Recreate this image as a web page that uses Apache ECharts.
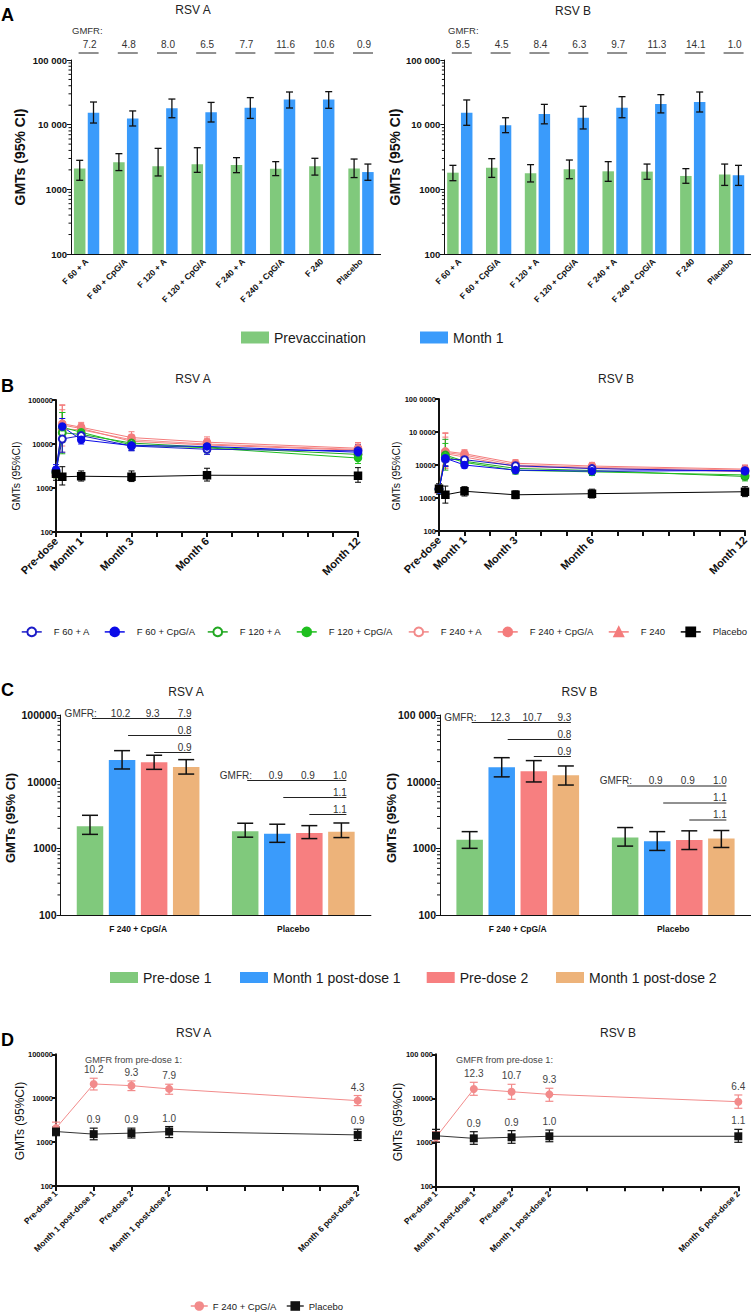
<!DOCTYPE html>
<html>
<head>
<meta charset="utf-8">
<title>RSV GMT figure</title>
<script src="https://cdn.jsdelivr.net/npm/echarts@6/dist/echarts.min.js"></script>
<style>
html,body{margin:0;padding:0;background:#ffffff;width:751px;height:1314px;overflow:hidden;}
.layer{position:absolute;left:0;top:0;width:751px;height:1314px;}
</style>
</head>
<body>
<div id="panelA" class="layer"></div>
<div id="panelB" class="layer"></div>
<div id="panelC" class="layer"></div>
<div id="panelD" class="layer"></div>
<script>
// ================= DATA =================
// ---- Panel A ----
const catsA = ['F 60 + A', 'F 60 + CpG/A', 'F 120 + A', 'F 120 + CpG/A', 'F 240 + A', 'F 240 + CpG/A', 'F 240', 'Placebo'];
const seriesNamesA = ['Prevaccination', 'Month 1'];
// RSV A
const aA_pre    = [2100, 2620, 2270, 2440, 2380, 2090, 2270, 2100];
const aA_pre_lo = [1380, 1950, 1610, 1830, 1810, 1630, 1660, 1520];
const aA_pre_hi = [2810, 3560, 4300, 4400, 3090, 2680, 3020, 2940];
const aA_m1     = [15300, 12500, 17900, 15500, 18300, 24400, 24400, 1850];
const aA_m1_lo  = [10600, 9540, 12800, 11000, 12500, 18100, 17900, 1380];
const aA_m1_hi  = [22400, 16300, 24900, 22100, 26200, 32000, 32400, 2460];
const aA_gmfr   = ['7.2', '4.8', '8.0', '6.5', '7.7', '11.6', '10.6', '0.9'];
// RSV B
const aB_pre    = [1810, 2160, 1770, 2040, 1900, 1880, 1610, 1690];
const aB_pre_lo = [1360, 1530, 1300, 1460, 1330, 1430, 1240, 1150];
const aB_pre_hi = [2350, 2980, 2410, 2840, 2680, 2460, 2090, 2460];
const aB_m1     = [15300, 9770, 14600, 12800, 18300, 20900, 22400, 1650];
const aB_m1_lo  = [9770, 7520, 10300, 8580, 12800, 15200, 15700, 1150];
const aB_m1_hi  = [24100, 12800, 20600, 19200, 27100, 29100, 32000, 2350];
const aB_gmfr   = ['8.5', '4.5', '8.4', '6.3', '9.7', '11.3', '14.1', '1.0'];
const yLabelsA = ['100', '1000', '10 000', '100 000'];

// ---- Panel B ----
const bGroups = ['F 60 + A', 'F 60 + CpG/A', 'F 120 + A', 'F 120 + CpG/A', 'F 240 + A', 'F 240 + CpG/A', 'F 240', 'Placebo'];
const bTimes = [0, 0.25, 1, 3, 6, 12];
const bLabelTimes = [0, 1, 3, 6, 12];
const bLabels = ['Pre-dose', 'Month 1', 'Month 3', 'Month 6', 'Month 12'];
// RSV A (rows follow bGroups, columns follow bTimes)
const bA_val = [
  [2400, 13000, 15500, 9000, 7600, 7000],
  [2600, 25000, 12500, 9200, 8800, 6500],
  [2200, 18000, 16500, 10500, 8500, 5800],
  [2300, 24000, 18500, 9500, 8200, 4800],
  [2300, 22000, 21000, 12500, 10000, 7500],
  [2200, 29000, 24000, 14000, 11000, 8000],
  [2300, 27000, 22500, 11500, 9500, 7200],
  [2100, 1800, 1850, 1800, 1950, 1900]
];
const bA_lo = [
  [1900, 6500, 11500, 7000, 5800, 5200],
  [2000, 16000, 10000, 7200, 6800, 4800],
  [1700, 6000, 12000, 8000, 6500, 4200],
  [1800, 11000, 14000, 7300, 6300, 3600],
  [1800, 6500, 16000, 9500, 7600, 5600],
  [1700, 11000, 19000, 10500, 8500, 6000],
  [1800, 9000, 17500, 8800, 7300, 5300],
  [1500, 1170, 1440, 1400, 1440, 1350]
];
const bA_hi = [
  [3000, 26000, 20000, 11500, 10000, 9500],
  [3400, 38000, 15500, 11800, 11400, 8800],
  [2800, 52000, 22000, 13500, 11000, 8000],
  [2900, 52000, 24000, 12400, 10600, 6400],
  [2900, 75000, 27000, 16500, 13200, 10000],
  [2800, 78000, 31000, 19000, 14500, 10800],
  [2900, 60000, 29000, 15000, 12400, 9800],
  [2900, 3050, 2440, 2440, 2810, 2900]
];
// RSV B
const bB_val = [
  [1900, 15000, 14500, 9500, 7800, 6500],
  [1800, 16000, 10000, 7000, 6500, 6800],
  [1800, 20000, 13000, 7900, 6800, 4500],
  [1900, 18000, 12000, 6900, 6200, 5000],
  [1800, 24000, 20000, 10000, 8500, 7000],
  [1900, 26000, 22000, 11300, 9300, 7500],
  [1850, 22000, 17500, 9000, 8000, 6300],
  [1900, 1250, 1600, 1250, 1350, 1550]
];
const bB_lo = [
  [1500, 9000, 11000, 7500, 6000, 4800],
  [1400, 9500, 8000, 5500, 5000, 5000],
  [1400, 7000, 10000, 6000, 5200, 3300],
  [1500, 9000, 9500, 5300, 4800, 3700],
  [1400, 8000, 15000, 7800, 6500, 5000],
  [1500, 9500, 17000, 8800, 7200, 5600],
  [1450, 8000, 13500, 7000, 6200, 4600],
  [1300, 700, 1150, 950, 1000, 1100]
];
const bB_hi = [
  [2400, 28000, 19500, 12000, 10000, 9000],
  [2300, 27000, 12500, 9000, 8500, 9200],
  [2300, 60000, 17500, 10500, 9000, 6200],
  [2400, 45000, 15500, 9000, 8000, 6800],
  [2300, 90000, 27000, 13000, 11200, 9800],
  [2400, 95000, 29000, 14500, 12000, 10000],
  [2350, 70000, 23000, 11700, 10400, 8700],
  [2700, 2300, 2200, 1650, 1850, 2200]
];
const yLabelsBL = ['100', '1000', '10000', '100000'];
const yLabelsBR = ['100', '1000', '10000', '10 0000', '100 0000'];

// ---- Panel C ----
const catsC = ['F 240 + CpG/A', 'Placebo'];
const seriesNamesC = ['Pre-dose 1', 'Month 1 post-dose 1', 'Pre-dose 2', 'Month 1 post-dose 2'];
// RSV A (rows follow seriesNamesC, columns follow catsC)
const cA_val = [[2150, 1800], [21200, 1650], [19600, 1700], [16600, 1780]];
const cA_lo  = [[1620, 1470], [15500, 1230], [15300, 1400], [13000, 1450]];
const cA_hi  = [[3130, 2380], [29200, 2300], [24900, 2190], [21400, 2400]];
const cA_gmfr1 = [['10.2', '9.3', '7.9'], ['0.9', '0.9', '1.0']];
const cA_gmfr2 = ['0.8', '1.1'];
const cA_gmfr3 = ['0.9', '1.1'];
// RSV B
const cB_val = [[1350, 1450], [16400, 1280], [14300, 1330], [12500, 1400]];
const cB_lo  = [[1000, 1080], [11800, 930], [9900, 960], [8900, 1030]];
const cB_hi  = [[1780, 2050], [22900, 1780], [20700, 1830], [17200, 1850]];
const cB_gmfr1 = [['12.3', '10.7', '9.3'], ['0.9', '0.9', '1.0']];
const cB_gmfr2 = ['0.8', '1.1'];
const cB_gmfr3 = ['0.9', '1.1'];
const yLabelsCL = ['100', '1000', '10000', '100000'];
const yLabelsCR = ['100', '1000', '10000', '100 000'];

// ---- Panel D ----
const dX = [0, 1, 2, 3, 8];
const dXLabels = ['Pre-dose 1', 'Month 1 post-dose 1', 'Pre-dose 2', 'Month 1 post-dose 2', 'Month 6 post-dose 2'];
const dNames = ['F 240 + CpG/A', 'Placebo'];
// RSV A
const dA_vac    = [2080, 21100, 19300, 16300, 8810];
const dA_vac_lo = [1600, 15400, 14900, 12300, 6790];
const dA_vac_hi = [2850, 28500, 24700, 20800, 11500];
const dA_pla    = [1740, 1520, 1600, 1740, 1460];
const dA_pla_lo = [1400, 1130, 1240, 1270, 1090];
const dA_pla_hi = [2200, 2080, 2080, 2260, 1970];
const dA_gmfrV  = ['', '10.2', '9.3', '7.9', '4.3'];
const dA_gmfrP  = ['', '0.9', '0.9', '1.0', '0.9'];
// RSV B
const dB_vac    = [1300, 16300, 14100, 12300, 8380];
const dB_vac_lo = [1030, 11700, 9490, 8550, 5930];
const dB_vac_hi = [1740, 23100, 20800, 16900, 11900];
const dB_pla    = [1410, 1230, 1300, 1370, 1370];
const dB_pla_lo = [1000, 900, 950, 1030, 1000];
const dB_pla_hi = [1970, 1740, 1840, 1900, 1970];
const dB_gmfrV  = ['', '12.3', '10.7', '9.3', '6.4'];
const dB_gmfrP  = ['', '0.9', '0.9', '1.0', '1.1'];
const yLabelsDL = ['100', '1000', '10000', '100000'];
const yLabelsDR = ['100', '1000', '10000', '100 000'];

// log-axis minor tick positions
const minorTicks = [200, 300, 400, 500, 600, 700, 800, 900,
  2000, 3000, 4000, 5000, 6000, 7000, 8000, 9000,
  20000, 30000, 40000, 50000, 60000, 70000, 80000, 90000];

// ================= HELPERS =================
const FONT = '"Liberation Sans", Arial, Helvetica, sans-serif';
const BLACK = '#111111';
const GREEN = '#80c97c';
const BLUE = '#3a9bfb';
const SALMON = '#f77f80';
const ORANGE = '#edb37a';

function txt(x, y, text, size, color, weight, align, rot) {
  return {type: 'text', x: x, y: y, rotation: rot || 0, silent: true,
    style: {text: text, fill: color || '#222', fontSize: size, fontFamily: FONT, fontWeight: weight || 'normal',
      align: align || 'center', verticalAlign: 'middle', textAlign: align || 'center', textVerticalAlign: 'middle'}};
}
function tickFormatter(ticks, labels) {
  return function (v) {
    for (let i = 0; i < ticks.length; i++) {
      if (Math.abs(v - ticks[i]) / ticks[i] < 1e-6) return labels[i];
    }
    return '';
  };
}
function logY(gridIndex, min, max, labels, o) {
  const ticks = [];
  for (let v = min; v <= max * 1.0001; v *= 10) ticks.push(v);
  return {
    type: 'log', logBase: 10, gridIndex: gridIndex, min: min, max: max, offset: o.offset || 0,
    axisLine: {show: true, lineStyle: {color: BLACK, width: o.lw || 1}},
    axisTick: {show: true, length: o.tl || 4, lineStyle: {color: BLACK, width: o.lw || 1}},
    axisLabel: {fontSize: o.fs, fontWeight: o.fw || 'bold', color: BLACK, margin: o.margin || 4, fontFamily: FONT,
      formatter: tickFormatter(ticks, labels)},
    splitLine: {show: false}
  };
}
function catX(gridIndex, data, o) {
  return {type: 'category', gridIndex: gridIndex, data: data, boundaryGap: true,
    axisLine: {show: true, lineStyle: {color: BLACK, width: 1}},
    axisTick: {show: false},
    axisLabel: {interval: 0, rotate: o.rotate || 0, fontSize: o.fs, fontWeight: 'bold', color: BLACK, margin: o.margin, fontFamily: FONT}
  };
}
function valX(gridIndex, max, ticks, labels, o) {
  return {type: 'value', gridIndex: gridIndex, min: 0, max: max, interval: 1,
    axisLine: {show: true, lineStyle: {color: BLACK, width: 2}},
    axisTick: {show: true, length: 5, lineStyle: {color: BLACK, width: 2}},
    axisLabel: {rotate: 45, fontSize: o.fs, fontWeight: 'bold', color: BLACK, margin: o.margin, fontFamily: FONT,
      showMinLabel: true, showMaxLabel: true,
      formatter: function (v) {
        const i = ticks.indexOf(Math.round(v));
        return (i >= 0 && Math.abs(v - Math.round(v)) < 1e-6) ? labels[i] : '';
      }},
    splitLine: {show: false}
  };
}
function errRender(offset, capHalf, color, lw, labels, gap) {
  return function (params, api) {
    const x = api.value(0), lo = api.value(1), hi = api.value(2);
    const a = api.coord([x, lo]), b = api.coord([x, hi]);
    const cx = a[0] + offset;
    const st = {stroke: color, lineWidth: lw, fill: null};
    const ch = [
      {type: 'line', shape: {x1: cx, y1: b[1], x2: cx, y2: a[1]}, style: st},
      {type: 'line', shape: {x1: cx - capHalf, y1: b[1], x2: cx + capHalf, y2: b[1]}, style: st},
      {type: 'line', shape: {x1: cx - capHalf, y1: a[1], x2: cx + capHalf, y2: a[1]}, style: st}
    ];
    if (labels && labels[params.dataIndex]) {
      ch.push(txt(cx, b[1] - gap, labels[params.dataIndex], 10, '#444', 'normal'));
    }
    return {type: 'group', children: ch};
  };
}
function errSeries(xi, yi, xs, lo, hi, offset, capHalf, color, lw, labels, gap) {
  return {type: 'custom', xAxisIndex: xi, yAxisIndex: yi, clip: false, silent: true, z: 5,
    data: xs.map(function (x, i) { return [x, lo[i], hi[i]]; }),
    renderItem: errRender(offset, capHalf, color, lw, labels, gap)};
}
function minorSeries(xi, yi, shift, len) {
  return {type: 'custom', xAxisIndex: xi, yAxisIndex: yi, clip: false, silent: true,
    data: minorTicks.map(function (v) { return [0, v]; }),
    renderItem: function (params, api) {
      const y = api.coord([0, api.value(1)])[1];
      const x = params.coordSys.x + shift;
      return {type: 'line', shape: {x1: x - len, y1: y, x2: x, y2: y}, style: {stroke: BLACK, lineWidth: 1}};
    }};
}
function legendItem(name, left, top, o) {
  return {data: [name], left: left, top: top, padding: 0, orient: 'horizontal', selectedMode: false,
    itemWidth: o.w, itemHeight: o.h, icon: o.icon,
    lineStyle: o.lineStyle,
    textStyle: {fontSize: o.fs, color: '#1a1a1a', fontFamily: FONT, padding: o.tp || 0}};
}

// ================= PANEL A =================
function gmfrTopRender(labels) {
  return function (params, api) {
    const p = api.coord([api.value(0), api.value(1)]);
    const cx = p[0] + 2;
    return {type: 'group', children: [
      txt(cx + 1, p[1] - 16, labels[params.dataIndex], 10, '#333', 'normal'),
      {type: 'line', shape: {x1: cx - 10, y1: p[1] - 7, x2: cx + 10, y2: p[1] - 7}, style: {stroke: '#222', lineWidth: 1}}
    ]};
  };
}
const topRef = catsA.map(function (c, i) { return [i, 100000]; });
const catIdx = catsA.map(function (c, i) { return i; });
const optA = {
  animation: false,
  textStyle: {fontFamily: FONT},
  grid: [{left: 67, top: 60, width: 313.6, height: 194}, {left: 440.4, top: 60, width: 313.6, height: 194}],
  xAxis: [catX(0, catsA, {rotate: 45, fs: 8.5, margin: 6}), catX(1, catsA, {rotate: 45, fs: 8.5, margin: 6})],
  yAxis: [logY(0, 100, 100000, yLabelsA, {offset: -4, fs: 9.5, tl: 4}), logY(1, 100, 100000, yLabelsA, {offset: -4, fs: 9.5, tl: 4})],
  legend: [
    legendItem('Prevaccination', 241, 330.5, {w: 28, h: 12, fs: 14, icon: 'rect'}),
    legendItem('Month 1', 420, 330.5, {w: 28, h: 12, fs: 14, icon: 'rect'})
  ],
  graphic: [
    txt(1, 15, 'A', 18, '#000', 'bold', 'left'),
    txt(193, 10, 'RSV A', 12, '#222'),
    txt(573, 11, 'RSV B', 12, '#222'),
    txt(72, 30.5, 'GMFR:', 9.5, '#333', 'normal', 'left'),
    txt(448, 30, 'GMFR:', 9.5, '#333', 'normal', 'left'),
    txt(19.5, 157, 'GMTs (95% CI)', 14, '#111', 'bold', 'center', Math.PI / 2),
    txt(394.5, 157, 'GMTs (95% CI)', 14, '#111', 'bold', 'center', Math.PI / 2)
  ],
  series: [
    {type: 'bar', name: seriesNamesA[0], xAxisIndex: 0, yAxisIndex: 0, data: aA_pre, barWidth: 11.5, barGap: '20%', itemStyle: {color: GREEN}},
    {type: 'bar', name: seriesNamesA[1], xAxisIndex: 0, yAxisIndex: 0, data: aA_m1, barWidth: 11.5, barGap: '20%', itemStyle: {color: BLUE}},
    {type: 'bar', name: seriesNamesA[0], xAxisIndex: 1, yAxisIndex: 1, data: aB_pre, barWidth: 11.5, barGap: '20%', itemStyle: {color: GREEN}},
    {type: 'bar', name: seriesNamesA[1], xAxisIndex: 1, yAxisIndex: 1, data: aB_m1, barWidth: 11.5, barGap: '20%', itemStyle: {color: BLUE}},
    errSeries(0, 0, catIdx, aA_pre_lo, aA_pre_hi, -6.9, 3.5, BLACK, 1.3),
    errSeries(0, 0, catIdx, aA_m1_lo, aA_m1_hi, 6.9, 3.5, BLACK, 1.3),
    errSeries(1, 1, catIdx, aB_pre_lo, aB_pre_hi, -6.9, 3.5, BLACK, 1.3),
    errSeries(1, 1, catIdx, aB_m1_lo, aB_m1_hi, 6.9, 3.5, BLACK, 1.3),
    {type: 'custom', xAxisIndex: 0, yAxisIndex: 0, clip: false, silent: true, data: topRef, renderItem: gmfrTopRender(aA_gmfr)},
    {type: 'custom', xAxisIndex: 1, yAxisIndex: 1, clip: false, silent: true, data: topRef, renderItem: gmfrTopRender(aB_gmfr)},
    minorSeries(0, 0, 4, 2.5),
    minorSeries(1, 1, 4, 2.5)
  ]
};

// ================= PANEL B =================
const bColors = ['#1c1cc8', '#0b0be8', '#22a822', '#1fbf1f', '#f28a8a', '#f47c7c', '#f47c7c', '#000000'];
const bSymbols = ['emptyCircle', 'circle', 'emptyCircle', 'circle', 'emptyCircle', 'circle', 'triangle', 'rect'];
const bOrder = [4, 6, 5, 2, 3, 0, 1, 7];
const bSeries = [];
[[bA_val, bA_lo, bA_hi], [bB_val, bB_lo, bB_hi]].forEach(function (set, g) {
  bOrder.forEach(function (k) {
    bSeries.push(errSeries(g, g, bTimes, set[1][k], set[2][k], 0, 3, bColors[k], 1));
  });
  bOrder.forEach(function (k) {
    bSeries.push({type: 'line', name: bGroups[k], xAxisIndex: g, yAxisIndex: g, z: 6,
      data: bTimes.map(function (t, i) { return [t, set[0][k][i]]; }),
      symbol: bSymbols[k], symbolSize: 7, showAllSymbol: true,
      lineStyle: {color: bColors[k], width: 1}, itemStyle: {color: bColors[k], borderColor: bColors[k], borderWidth: 1.5}});
  });
});
const bLegLeft = [21, 104, 207, 296, 408, 497, 608, 680];
const optB = {
  animation: false,
  textStyle: {fontFamily: FONT},
  grid: [{left: 56, top: 400, width: 302, height: 132}, {left: 439, top: 399, width: 306, height: 132}],
  xAxis: [valX(0, 12, bLabelTimes, bLabels, {fs: 11, margin: 7}), valX(1, 12, bLabelTimes, bLabels, {fs: 11, margin: 7})],
  yAxis: [logY(0, 100, 100000, yLabelsBL, {fs: 7.5, lw: 2, tl: 4, margin: 3}), logY(1, 100, 1000000, yLabelsBR, {fs: 7.5, lw: 2, tl: 4, margin: 3})],
  legend: bGroups.map(function (n, i) {
    return legendItem(n, bLegLeft[i], 626.5, {w: 20, h: 11, fs: 9.5, tp: [0, 0, 0, 7], lineStyle: {width: 1.5}});
  }),
  graphic: [
    txt(1, 386, 'B', 18, '#000', 'bold', 'left'),
    txt(193, 378.5, 'RSV A', 12, '#222'),
    txt(616, 378.5, 'RSV B', 12, '#222'),
    txt(16, 476, 'GMTs (95%CI)', 10.5, '#111', 'normal', 'center', Math.PI / 2),
    txt(395.5, 476, 'GMTs (95%CI)', 10.5, '#111', 'normal', 'center', Math.PI / 2)
  ],
  series: bSeries
};

// ================= PANEL C =================
const cColors = [GREEN, BLUE, SALMON, ORANGE];
const cPitch = 26.5 * 1.21;
const cOffsets = [-1.5 * cPitch, -0.5 * cPitch, 0.5 * cPitch, 1.5 * cPitch];
function cAnnRender(row1, row2, row3, bases) {
  return function (params, api) {
    const i = params.dataIndex;
    const p = api.coord([api.value(0), api.value(1)]);
    const c = p[0];
    const base = p[1] + bases[i];
    const green = c + cOffsets[0], blue = c + cOffsets[1], red = c + cOffsets[2], orange = c + cOffsets[3];
    const right = orange + 5;
    const ln = function (x1, y) { return {type: 'line', shape: {x1: x1, y1: y, x2: right, y2: y}, style: {stroke: '#222', lineWidth: 1}}; };
    return {type: 'group', children: [
      txt(c - 73.5, base, 'GMFR:', 10, '#333', 'normal', 'left'),
      txt(blue - 1.5, base, row1[i][0], 10, '#333'),
      txt(red - 1.5, base, row1[i][1], 10, '#333'),
      txt(orange - 1.5, base, row1[i][2], 10, '#333'),
      ln(green + 2, base + 5.5),
      txt(orange - 1.5, base + 17, row2[i], 10, '#333'),
      ln(blue + 6, base + 22.5),
      txt(orange - 1.5, base + 34, row3[i], 10, '#333'),
      ln(red, base + 39.5)
    ]};
  };
}
const cIdx = catsC.map(function (c, i) { return i; });
const cTopRef = catsC.map(function (c, i) { return [i, 100000]; });
const cSeries = [];
[[cA_val, cA_lo, cA_hi], [cB_val, cB_lo, cB_hi]].forEach(function (set, g) {
  seriesNamesC.forEach(function (n, k) {
    cSeries.push({type: 'bar', name: n, xAxisIndex: g, yAxisIndex: g, data: set[0][k], barWidth: 26.5, barGap: '21%', itemStyle: {color: cColors[k]}});
  });
  seriesNamesC.forEach(function (n, k) {
    cSeries.push(errSeries(g, g, cIdx, set[1][k], set[2][k], cOffsets[k], 8, BLACK, 1.5));
  });
  cSeries.push(minorSeries(g, g, 0, 3));
});
cSeries.push({type: 'custom', xAxisIndex: 0, yAxisIndex: 0, clip: false, silent: true, data: cTopRef, renderItem: cAnnRender(cA_gmfr1, cA_gmfr2, cA_gmfr3, [-2, 60])});
cSeries.push({type: 'custom', xAxisIndex: 1, yAxisIndex: 1, clip: false, silent: true, data: cTopRef, renderItem: cAnnRender(cB_gmfr1, cB_gmfr2, cB_gmfr3, [2, 65.5])});
const cLegLeft = [110, 240, 426.7, 556];
const optC = {
  animation: false,
  textStyle: {fontFamily: FONT},
  grid: [{left: 60.5, top: 715, width: 310.4, height: 200}, {left: 440, top: 715, width: 313, height: 200}],
  xAxis: [catX(0, catsC, {fs: 8.5, margin: 9}), catX(1, catsC, {fs: 8.5, margin: 9})],
  yAxis: [logY(0, 100, 100000, yLabelsCL, {fs: 10.5, tl: 4, margin: 4}), logY(1, 100, 100000, yLabelsCR, {fs: 10.5, tl: 4, margin: 4})],
  legend: seriesNamesC.map(function (n, i) { return legendItem(n, cLegLeft[i], 970.5, {w: 28, h: 11, fs: 14, icon: 'rect'}); }),
  graphic: [
    txt(1, 690, 'C', 18, '#000', 'bold', 'left'),
    txt(186, 692.3, 'RSV A', 12, '#222'),
    txt(579.5, 691.7, 'RSV B', 12, '#222'),
    txt(10, 818, 'GMTs (95% CI)', 13, '#111', 'bold', 'center', Math.PI / 2),
    txt(391, 818, 'GMTs (95% CI)', 13, '#111', 'bold', 'center', Math.PI / 2)
  ],
  series: cSeries
};

// ================= PANEL D =================
const dVacColor = '#f28b8b';
const dPlaColor = '#111111';
const dSeries = [];
[[dA_vac, dA_vac_lo, dA_vac_hi, dA_pla, dA_pla_lo, dA_pla_hi, dA_gmfrV, dA_gmfrP],
 [dB_vac, dB_vac_lo, dB_vac_hi, dB_pla, dB_pla_lo, dB_pla_hi, dB_gmfrV, dB_gmfrP]].forEach(function (s, g) {
  dSeries.push(errSeries(g, g, dX, s[1], s[2], 0, 4, dVacColor, 1.2, s[6], 8.5));
  dSeries.push(errSeries(g, g, dX, s[4], s[5], 0, 4, dPlaColor, 1.2, s[7], 8.5));
  dSeries.push({type: 'line', name: dNames[0], xAxisIndex: g, yAxisIndex: g, z: 6,
    data: dX.map(function (x, i) { return [x, s[0][i]]; }), symbol: 'circle', symbolSize: 8,
    lineStyle: {color: dVacColor, width: 1}, itemStyle: {color: dVacColor}});
  dSeries.push({type: 'line', name: dNames[1], xAxisIndex: g, yAxisIndex: g, z: 6,
    data: dX.map(function (x, i) { return [x, s[3][i]]; }), symbol: 'rect', symbolSize: 8,
    lineStyle: {color: '#333', width: 1}, itemStyle: {color: dPlaColor}});
});
const optD = {
  animation: false,
  textStyle: {fontFamily: FONT},
  grid: [{left: 56, top: 1054.3, width: 301.7, height: 131.7}, {left: 436, top: 1054.3, width: 302.3, height: 132}],
  xAxis: [valX(0, 8, dX, dXLabels, {fs: 8.5, margin: 6}), valX(1, 8, dX, dXLabels, {fs: 8.5, margin: 6})],
  yAxis: [logY(0, 100, 100000, yLabelsDL, {fs: 7.5, lw: 2, tl: 4, margin: 3}), logY(1, 100, 100000, yLabelsDR, {fs: 7.5, lw: 2, tl: 4, margin: 3})],
  legend: [
    legendItem(dNames[0], 190, 1301, {w: 17, h: 12, fs: 9.5, lineStyle: {width: 1.5}}),
    legendItem(dNames[1], 286, 1301, {w: 17, h: 12, fs: 9.5, lineStyle: {width: 1.5}})
  ],
  graphic: [
    txt(1, 1040, 'D', 18, '#000', 'bold', 'left'),
    txt(193.7, 1033.3, 'RSV A', 12, '#222'),
    txt(618, 1033.3, 'RSV B', 12, '#222'),
    txt(20, 1121, 'GMTs (95%CI)', 12, '#111', 'normal', 'center', Math.PI / 2),
    txt(397.5, 1122, 'GMTs (95%CI)', 12, '#111', 'normal', 'center', Math.PI / 2),
    txt(85, 1060, 'GMFR from pre-dose 1:', 9.2, '#444', 'normal', 'left'),
    txt(456, 1060, 'GMFR from pre-dose 1:', 9.2, '#444', 'normal', 'left')
  ],
  series: dSeries
};

[['panelA', optA], ['panelB', optB], ['panelC', optC], ['panelD', optD]].forEach(function (p) {
  const ch = echarts.init(document.getElementById(p[0]), null, {renderer: 'svg', width: 751, height: 1314});
  ch.setOption(p[1]);
});
</script>
</body>
</html>
